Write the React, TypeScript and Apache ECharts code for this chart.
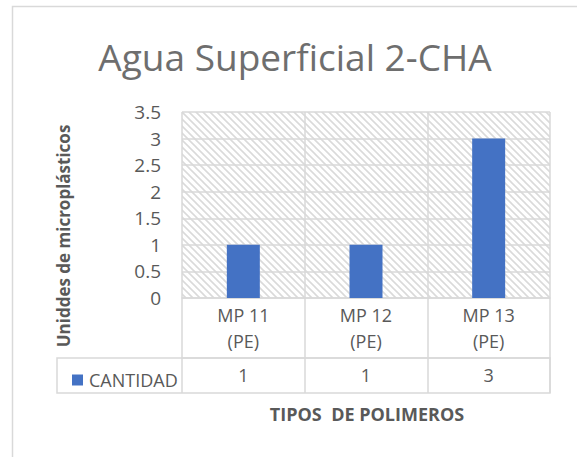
import React, { useEffect, useRef } from "react";
import * as echarts from "echarts";

const chartTitle = "Agua Superficial 2-CHA";
const categories = ["MP 11\n(PE)", "MP 12\n(PE)", "MP 13\n(PE)"];
const seriesName = "CANTIDAD";
const cantidad = [1, 1, 3];
const yMin = 0;
const yMax = 3.5;
const yInterval = 0.5;
const yTitle = "Uniddes de microplásticos";
const xTitle = "TIPOS  DE POLIMEROS";

const FONT = "'Open Sans', 'Noto Sans', sans-serif";
const GRID_LINE = "#d9d9d9";
const TEXT = "#595959";

function makeHatch(): HTMLCanvasElement {
  const c = document.createElement("canvas");
  c.width = 7;
  c.height = 7;
  const ctx = c.getContext("2d")!;
  ctx.fillStyle = "#ffffff";
  ctx.fillRect(0, 0, 7, 7);
  ctx.strokeStyle = "#dadada";
  ctx.lineWidth = 1.6;
  ctx.beginPath();
  ctx.moveTo(-1, -1);
  ctx.lineTo(8, 8);
  ctx.moveTo(-1, 6);
  ctx.lineTo(1, 8);
  ctx.moveTo(6, -1);
  ctx.lineTo(8, 1);
  ctx.stroke();
  return c;
}

export default function App() {
  const ref = useRef<HTMLDivElement>(null);
  useEffect(() => {
    if (!ref.current) return;
    const chart = echarts.init(ref.current, null, { renderer: "svg" });
    const hatch = makeHatch();
    const lineStyle = { color: GRID_LINE, width: 1.5 };
    chart.setOption({
      animation: false,
      backgroundColor: "#ffffff",
      textStyle: { fontFamily: FONT },
      grid: {
        left: 182,
        right: 27,
        top: 112,
        bottom: 159,
        show: true,
        borderWidth: 0,
        backgroundColor: { image: hatch, repeat: "repeat" },
      },
      legend: {
        data: [seriesName],
        left: 67,
        top: 366,
        icon: "rect",
        itemWidth: 11,
        itemHeight: 11,
        itemGap: 6,
        textStyle: { fontSize: 18, color: TEXT, fontFamily: FONT, padding: [0, 0, 0, 1] },
      },
      xAxis: [
        {
          type: "category",
          data: categories,
          position: "bottom",
          axisLine: { show: true, lineStyle },
          axisTick: { show: true, length: 95, lineStyle },
          splitLine: { show: true, lineStyle },
          axisLabel: {
            fontSize: 18,
            color: TEXT,
            fontFamily: FONT,
            lineHeight: 26,
            margin: 4,
            interval: 0,
          },
        },
        {
          type: "category",
          data: categories,
          position: "bottom",
          offset: 60,
          axisLine: { show: true, lineStyle },
          axisTick: { show: false },
          splitLine: { show: false },
          axisLabel: {
            fontSize: 18,
            color: TEXT,
            fontFamily: FONT,
            margin: 8,
            interval: 0,
            formatter: (_v: string, i: number) => String(cantidad[i]),
          },
        },
      ],
      yAxis: {
        type: "value",
        min: yMin,
        max: yMax,
        interval: yInterval,
        axisLine: { show: false },
        axisTick: { show: false },
        splitLine: { show: true, lineStyle },
        axisLabel: {
          fontSize: 19,
          color: TEXT,
          fontFamily: FONT,
          margin: 21,
          formatter: (v: number) => String(v),
        },
      },
      series: [
        {
          name: seriesName,
          type: "bar",
          data: cantidad,
          barWidth: 33,
          itemStyle: { color: "#4472C4" },
        },
      ],
      graphic: [
        {
          type: "rect",
          silent: true,
          shape: { x: 12.5, y: 6.5, width: 800, height: 800 },
          style: { fill: "none", stroke: GRID_LINE, lineWidth: 1.5 },
          z: -1,
        },
        {
          type: "rect",
          silent: true,
          shape: { x: 57, y: 358, width: 493, height: 35 },
          style: { fill: "none", stroke: GRID_LINE, lineWidth: 1.5 },
        },
        {
          type: "text",
          x: 295,
          y: 56,
          style: {
            text: chartTitle,
            fontSize: 37,
            fontFamily: FONT,
            fill: "#6e6e6e",
            textAlign: "center",
            textVerticalAlign: "middle",
          },
        },
        {
          type: "text",
          x: 63,
          y: 236,
          rotation: Math.PI / 2,
          style: {
            text: yTitle,
            fontSize: 17,
            fontWeight: "bold",
            fontFamily: FONT,
            fill: TEXT,
            textAlign: "center",
            textVerticalAlign: "middle",
          },
        },
        {
          type: "text",
          x: 367,
          y: 414,
          style: {
            text: xTitle,
            fontSize: 18,
            fontWeight: "bold",
            fontFamily: FONT,
            fill: TEXT,
            textAlign: "center",
            textVerticalAlign: "middle",
          },
        },
      ],
    });
    return () => chart.dispose();
  }, []);
  return (
    <div
      ref={ref}
      style={{ position: "absolute", left: 0, top: 0, width: 577, height: 457 }}
    />
  );
}
